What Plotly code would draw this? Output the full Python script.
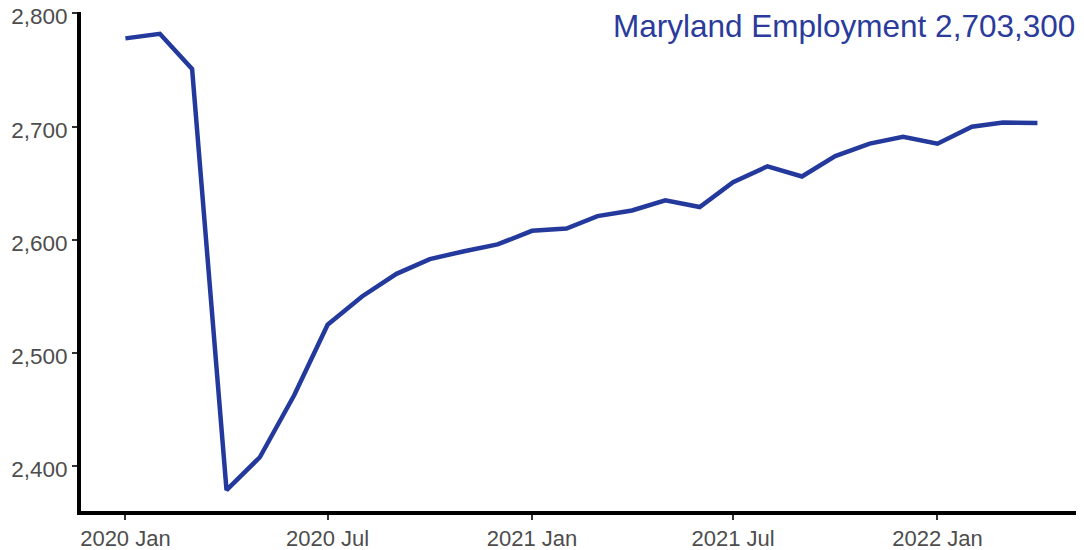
import plotly.graph_objects as go

months = ["2020-01-01","2020-02-01","2020-03-01","2020-04-01","2020-05-01","2020-06-01",
          "2020-07-01","2020-08-01","2020-09-01","2020-10-01","2020-11-01","2020-12-01",
          "2021-01-01","2021-02-01","2021-03-01","2021-04-01","2021-05-01","2021-06-01",
          "2021-07-01","2021-08-01","2021-09-01","2021-10-01","2021-11-01","2021-12-01",
          "2022-01-01","2022-02-01","2022-03-01","2022-04-01"]
employment = [2778, 2782, 2751, 2379, 2408, 2463, 2525, 2550, 2570, 2583, 2590, 2596,
              2608, 2610, 2621, 2626, 2635, 2629, 2651, 2665, 2656, 2674, 2685, 2691,
              2685, 2700, 2703.6, 2703.3]

x_tick_vals = ["2020-01-01", "2020-07-01", "2021-01-01", "2021-07-01", "2022-01-01"]
x_tick_text = ["2020 Jan", "2020 Jul", "2021 Jan", "2021 Jul", "2022 Jan"]
y_tick_vals = [2400, 2500, 2600, 2700, 2800]
y_tick_text = ["2,400", "2,500", "2,600", "2,700", "2,800"]
title_text = "Maryland Employment 2,703,300"

line_color = "#23399b"

fig = go.Figure()
fig.add_trace(go.Scatter(x=months, y=employment, mode="lines",
                         line=dict(color=line_color, width=4.5)))

fig.update_layout(
    width=1076, height=542,
    margin=dict(l=73, r=1, t=4, b=39, autoexpand=False),
    plot_bgcolor="white", paper_bgcolor="white",
    showlegend=False,
    font=dict(family="Liberation Sans, Arial", size=22, color="#4d4d4d"),
    annotations=[dict(text=title_text, x=1, y=1.0, xref="paper", yref="paper",
                      xanchor="right", yanchor="top", xshift=-6, yshift=6, showarrow=False,
                      font=dict(size=31.5, color="#2b3b9b", family="Liberation Sans, Arial"))],
)
fig.update_xaxes(range=["2019-11-22", "2022-05-12"], tickvals=x_tick_vals, ticktext=x_tick_text,
                 showgrid=False, zeroline=False, showline=True, linecolor="black", linewidth=4,
                 ticks="outside", ticklen=5, tickwidth=2, tickcolor="#333333", automargin=False,
                 tickfont=dict(size=22, color="#4d4d4d"))
fig.update_yaxes(range=[2360.5, 2801.3], tickvals=y_tick_vals, ticktext=y_tick_text,
                 showgrid=False, zeroline=False, showline=True, linecolor="black", linewidth=4,
                 ticks="outside", ticklen=5, tickwidth=2, tickcolor="#333333", automargin=False,
                 ticklabeloverflow="allow", ticklabelshift=3,
                 tickfont=dict(size=22.5, color="#4d4d4d"))

fig.write_html("out.html")
